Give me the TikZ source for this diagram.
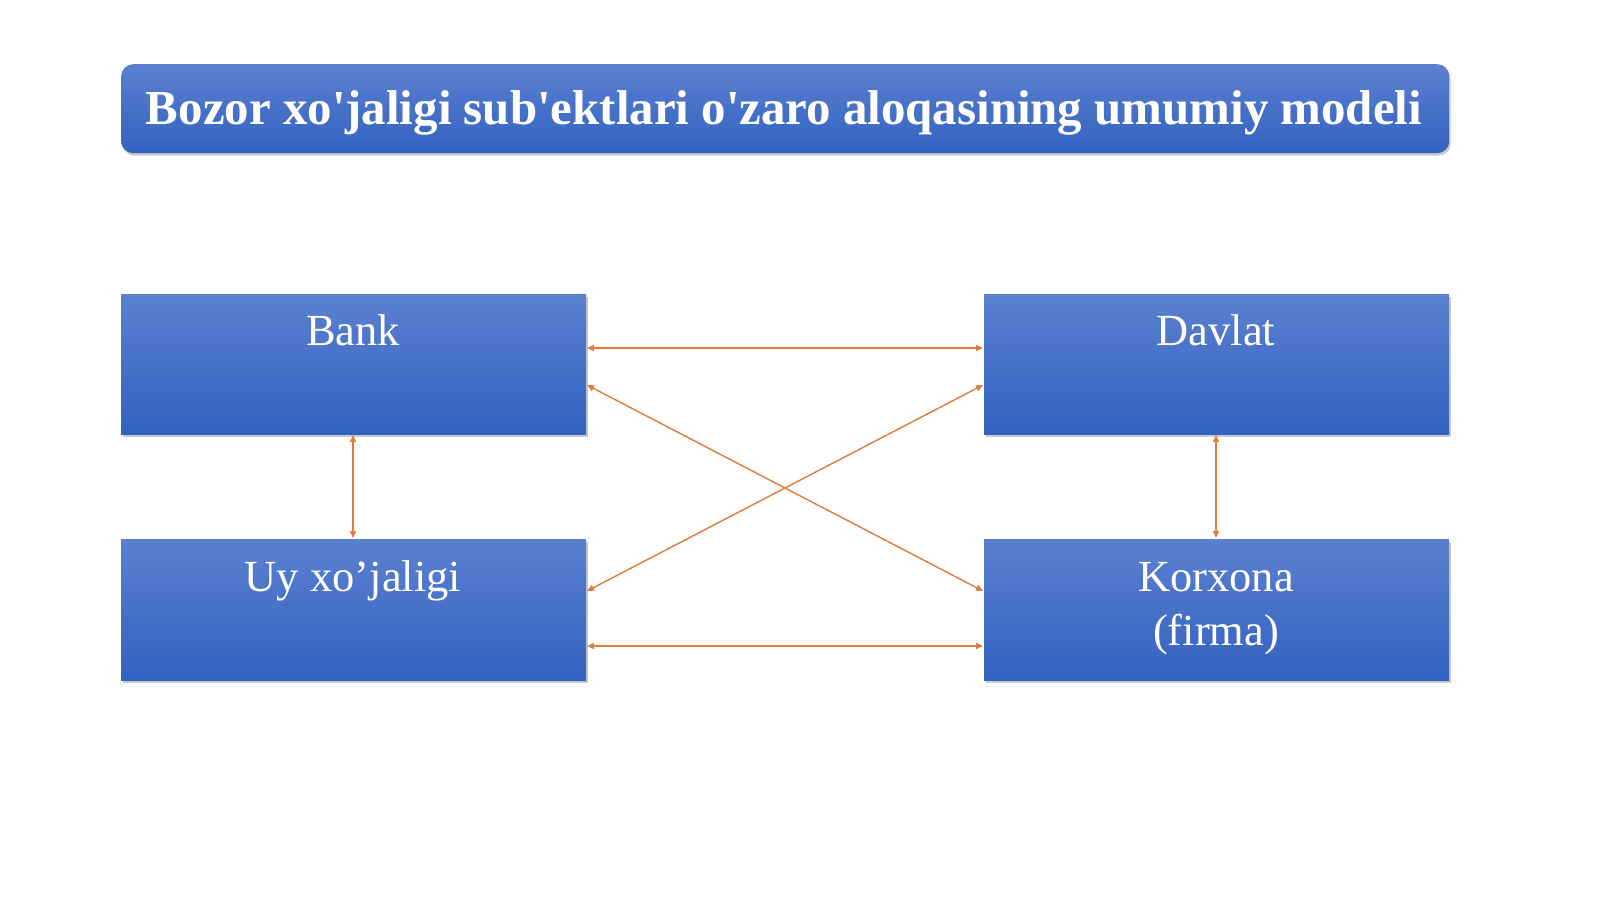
\documentclass[tikz,border=0pt]{standalone}
\usepackage{fontspec}
\setmainfont{Liberation Serif}[Ligatures=TeXOff]
\usetikzlibrary{arrows.meta,shadows}
\definecolor{boxtop}{HTML}{5B80D0}
\definecolor{boxbot}{HTML}{3262C0}
\definecolor{arr}{HTML}{E07B39}
\tikzset{
  entity/.style={draw=none, top color=boxtop, bottom color=boxbot, inner sep=0pt,
    drop shadow={shadow xshift=1.5pt, shadow yshift=-2.5pt, opacity=0.35, fill=black!60}},
  lbl/.style={text=white, font=\fontsize{44.5}{53}\selectfont, align=center, anchor=base, inner sep=0pt},
  link/.style={draw=arr, line width=1.4pt, {Triangle[length=7pt,width=6pt]}-{Triangle[length=7pt,width=6pt]}}
}
\begin{document}
\begin{tikzpicture}[x=1pt,y=-1pt]
\useasboundingbox (0,0) rectangle (1600,899);
\fill[white] (0,0) rectangle (1600,899);
% title
\node[entity, rounded corners=12pt, minimum width=1328pt, minimum height=89pt, anchor=north west] (title) at (121,64) {};
\node[text=white, font=\bfseries\fontsize{48.9}{58}\selectfont, anchor=base, inner sep=0pt] (ttext) at (784,124) {Bozor xo'jaligi sub'ektlari o'zaro aloqasining umumiy modeli};
% boxes
\node[entity, minimum width=465pt, minimum height=140pt, anchor=north west] (bank) at (121,294) {};
\node[entity, minimum width=465pt, minimum height=140pt, anchor=north west] (davlat) at (984,294) {};
\node[entity, minimum width=465pt, minimum height=141pt, anchor=north west] (uy) at (121,539) {};
\node[entity, minimum width=465pt, minimum height=141pt, anchor=north west] (korx) at (984,539) {};
\node[lbl] (tbank) at (353,345) {Bank};
\node[lbl] (tdavlat) at (1216,345) {Davlat};
\node[lbl] (tuy) at (353,591) {Uy xo’jaligi};
\node[lbl] (tk1) at (1216,591) {Korxona};
\node[lbl] (tk2) at (1216,645) {(firma)};
% connectors
\coordinate (b1) at (587,348); \coordinate (d1) at (983,348);
\coordinate (b2) at (587,385); \coordinate (k2) at (983,591);
\coordinate (u2) at (587,591); \coordinate (d2) at (983,385);
\coordinate (u3) at (587,646); \coordinate (k3) at (983,646);
\coordinate (bv) at (353,435); \coordinate (uv) at (353,538);
\coordinate (dv) at (1216,435); \coordinate (kv) at (1216,538);
\draw[link] (b1) -- (d1);
\draw[link] (b2) -- (k2);
\draw[link] (u2) -- (d2);
\draw[link] (u3) -- (k3);
\draw[link] (bv) -- (uv);
\draw[link] (dv) -- (kv);
\end{tikzpicture}
\end{document}
